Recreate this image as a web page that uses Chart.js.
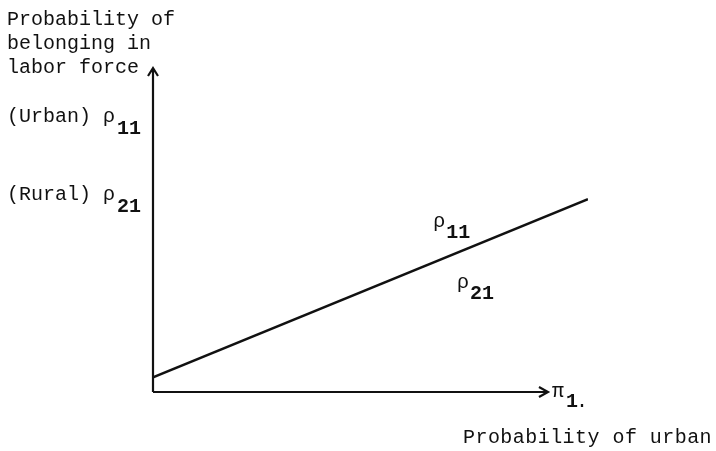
<!doctype html>
<html lang="en">
<head>
  <meta charset="utf-8">
  <title>Probability of belonging in labor force</title>
  <style>
    html, body { margin: 0; padding: 0; background: #fff; }
    .wrap { width: 716px; height: 451px; position: relative; }
  </style>
</head>
<body>
  <div class="wrap"><canvas id="chart"></canvas></div>

  <script src="https://cdn.jsdelivr.net/npm/chart.js"></script>
  <script>
    // share urban (x) vs probability of belonging in labor force (y)
    const urbanShare = [0, 1];
    const laborProb  = [0.045, 0.595];

    // labels on the vertical axis
    const yTickValues = [0.833, 0.593];
    const yTickLabels = ['(Urban) ρ', '(Rural) ρ'];
    const yTickSubs   = ['11', '21'];

    // labels beside the line
    const lineLabelX = [0.644, 0.699];
    const lineLabelY = [0.509, 0.321];
    const lineLabelSubs = ['11', '21'];

    const xAxisEnd = 0.908;
    const INK = '#111';
    const FONT = '20px "Liberation Mono", "Courier New", monospace';
    const SUB_FONT = 'bold 20px "Liberation Mono", "Courier New", monospace';

    function sub(ctx, text, px, py) {
      ctx.font = SUB_FONT;
      ctx.fillText(text, px, py);
      ctx.font = FONT;
    }

    const drawing = {
      id: 'drawing',
      afterDraw(chart) {
        const { ctx, scales: { x, y } } = chart;
        const x0 = x.getPixelForValue(0), y0 = y.getPixelForValue(0);
        const yTop = y.getPixelForValue(1), xEnd = x.getPixelForValue(xAxisEnd);
        ctx.save();
        ctx.strokeStyle = INK;
        ctx.lineWidth = 2.2;
        ctx.beginPath();
        ctx.moveTo(x0, y0); ctx.lineTo(x0, yTop);
        ctx.moveTo(x0, y0); ctx.lineTo(xEnd, y0);
        // arrow heads
        ctx.moveTo(x0 - 5, yTop + 8); ctx.lineTo(x0, yTop); ctx.lineTo(x0 + 5, yTop + 8);
        ctx.moveTo(xEnd - 9, y0 - 5); ctx.lineTo(xEnd, y0); ctx.lineTo(xEnd - 9, y0 + 5);
        ctx.stroke();

        ctx.fillStyle = INK;
        ctx.font = FONT;
        ctx.textBaseline = 'alphabetic';
        ctx.textAlign = 'left';

        // y axis title
        ['Probability of', 'belonging in', 'labor force'].forEach((t, i) => {
          ctx.fillText(t, 7, 25 + i * 24);
        });

        // y tick labels with subscripts
        yTickValues.forEach((v, i) => {
          const py = y.getPixelForValue(v);
          ctx.fillText(yTickLabels[i], 7, py);
          sub(ctx, yTickSubs[i], 117, py + 12);
        });

        // labels beside the line
        lineLabelX.forEach((v, i) => {
          const px = x.getPixelForValue(v), py = y.getPixelForValue(lineLabelY[i]);
          ctx.fillText('ρ', px, py);
          sub(ctx, lineLabelSubs[i], px + 13, py + 11);
        });

        // x axis symbol and title
        const px = xEnd + 4;
        ctx.fillText('π', px, y0 + 5);
        sub(ctx, '1', px + 14, y0 + 15);
        ctx.fillText('.', px + 24, y0 + 15);
        ctx.letterSpacing = '0.45px';
        ctx.fillText('Probability of urban', 463, 443);
        ctx.restore();
      }
    };

    new Chart(document.getElementById('chart'), {
      type: 'scatter',
      data: {
        datasets: [{
          data: urbanShare.map((u, i) => ({ x: u, y: laborProb[i] })),
          showLine: true,
          borderColor: INK,
          borderWidth: 2.5,
          pointRadius: 0,
          fill: false
        }]
      },
      options: {
        responsive: true,
        maintainAspectRatio: false,
        animation: false,
        layout: { padding: { left: 153, top: 68, right: 128, bottom: 59 } },
        plugins: { legend: { display: false }, tooltip: { enabled: false } },
        scales: {
          x: { type: 'linear', min: 0, max: 1, display: false },
          y: { type: 'linear', min: 0, max: 1, display: false }
        }
      },
      plugins: [drawing]
    });
  </script>
</body>
</html>
